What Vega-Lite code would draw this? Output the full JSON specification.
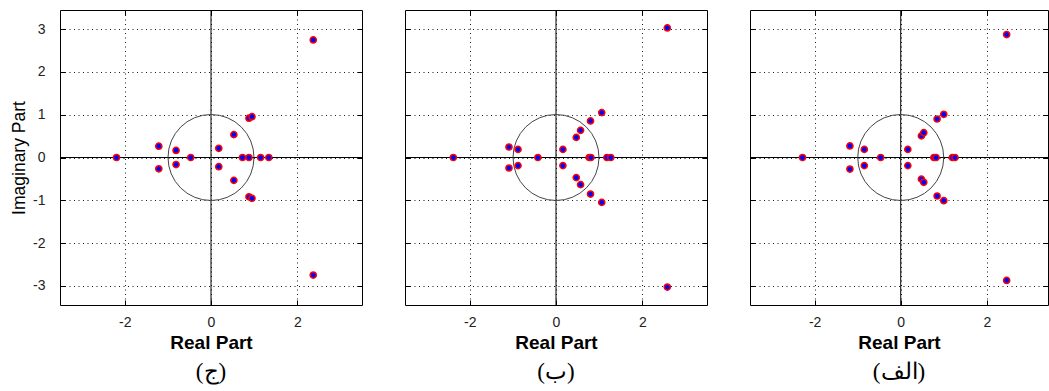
{
  "$schema": "https://vega.github.io/schema/vega-lite/v6.json",
  "usermeta": {"embedOptions": {"actions": false}},
  "background": "white",
  "padding": {"left": 10, "top": 9, "right": 0, "bottom": 0},
  "datasets": {
    "origin": [{"re": 0, "im": 0}],
    "p1": [
      {"re": 2.37, "im": 2.75}, {"re": 2.37, "im": -2.75},
      {"re": -2.19, "im": 0},
      {"re": -1.21, "im": 0.265}, {"re": -1.21, "im": -0.265},
      {"re": -0.81, "im": 0.165}, {"re": -0.81, "im": -0.165},
      {"re": -0.47, "im": 0},
      {"re": 0.18, "im": 0.215}, {"re": 0.18, "im": -0.215},
      {"re": 0.53, "im": 0.535}, {"re": 0.53, "im": -0.535},
      {"re": 0.88, "im": 0.92}, {"re": 0.95, "im": 0.955},
      {"re": 0.88, "im": -0.92}, {"re": 0.95, "im": -0.955},
      {"re": 0.73, "im": 0}, {"re": 0.88, "im": 0}, {"re": 1.15, "im": 0}, {"re": 1.34, "im": 0}
    ],
    "p2": [
      {"re": 2.58, "im": 3.03}, {"re": 2.58, "im": -3.03},
      {"re": -2.38, "im": 0},
      {"re": -1.09, "im": 0.245}, {"re": -1.09, "im": -0.245},
      {"re": -0.88, "im": 0.19}, {"re": -0.88, "im": -0.19},
      {"re": -0.42, "im": 0},
      {"re": 0.16, "im": 0.19}, {"re": 0.16, "im": -0.19},
      {"re": 0.47, "im": 0.47}, {"re": 0.47, "im": -0.47},
      {"re": 0.57, "im": 0.635}, {"re": 0.57, "im": -0.635},
      {"re": 0.8, "im": 0.855}, {"re": 0.8, "im": -0.855},
      {"re": 1.06, "im": 1.05}, {"re": 1.06, "im": -1.05},
      {"re": 0.77, "im": 0}, {"re": 0.81, "im": 0}, {"re": 1.18, "im": 0}, {"re": 1.27, "im": 0}
    ],
    "p3": [
      {"re": 2.46, "im": 2.875}, {"re": 2.46, "im": -2.875},
      {"re": -2.28, "im": 0},
      {"re": -1.18, "im": 0.27}, {"re": -1.18, "im": -0.27},
      {"re": -0.845, "im": 0.19}, {"re": -0.845, "im": -0.19},
      {"re": -0.465, "im": 0},
      {"re": 0.165, "im": 0.19}, {"re": 0.165, "im": -0.19},
      {"re": 0.48, "im": 0.505}, {"re": 0.48, "im": -0.505},
      {"re": 0.535, "im": 0.58}, {"re": 0.535, "im": -0.58},
      {"re": 0.845, "im": 0.9}, {"re": 0.845, "im": -0.9},
      {"re": 1.0, "im": 1.01}, {"re": 1.0, "im": -1.01},
      {"re": 0.77, "im": 0}, {"re": 0.82, "im": 0}, {"re": 1.2, "im": 0}, {"re": 1.26, "im": 0}
    ]
  },
  "hconcat": [
    {
      "width": 302, "height": 295,
      "title": {"text": "(ج)", "orient": "bottom", "anchor": "middle", "frame": "group", "font": "Liberation Serif", "fontSize": 23, "fontWeight": "normal", "color": "#000", "offset": 9},
      "layer": [
        {"data": {"name": "origin"}, "mark": {"type": "rule", "color": "#000", "strokeWidth": 1},
         "encoding": {"y": {"field": "im", "type": "quantitative", "scale": {"domain": [-3.45, 3.45], "nice": false}, "axis": null}}},
        {"data": {"name": "origin"}, "mark": {"type": "rule", "color": "#000", "strokeWidth": 1},
         "encoding": {"x": {"field": "re", "type": "quantitative", "scale": {"domain": [-3.5, 3.5], "nice": false, "zero": false}, "axis": null}}},
        {"data": {"name": "origin"}, "mark": {"type": "point", "shape": "circle", "filled": false, "size": 7396, "stroke": "#444", "strokeWidth": 1, "opacity": 1},
         "encoding": {
           "x": {"field": "re", "type": "quantitative", "scale": {"domain": [-3.5, 3.5], "nice": false, "zero": false},
                 "axis": {"orient": "top", "values": [-2, 0, 2], "labels": false, "grid": false, "domain": false, "tickSize": -5, "tickColor": "#000", "title": null}},
           "y": {"field": "im", "type": "quantitative", "scale": {"domain": [-3.45, 3.45], "nice": false},
                 "axis": {"orient": "right", "values": [-3, -2, -1, 0, 1, 2, 3], "labels": false, "grid": false, "domain": false, "tickSize": -5, "tickColor": "#000", "title": null}}
         }},
        {"data": {"name": "p1"}, "mark": {"type": "point", "shape": "circle", "filled": true, "size": 38, "fill": "#0000ff", "stroke": "#ff0000", "strokeWidth": 1.5, "opacity": 1},
         "encoding": {
           "x": {"field": "re", "type": "quantitative", "scale": {"domain": [-3.5, 3.5], "nice": false, "zero": false},
                 "axis": {"orient": "bottom", "values": [-2, 0, 2], "labelExpr": "'' + datum.value", "grid": true, "gridDash": [1, 3.5], "gridColor": "#000", "gridOpacity": 0.9, "domain": false, "tickSize": -5, "tickColor": "#000", "labelPadding": 15, "labelFont": "Liberation Sans", "labelFontSize": 14, "labelColor": "#222", "title": "Real Part", "titleFont": "Liberation Sans", "titleFontSize": 19, "titleFontWeight": "bold", "titleColor": "#000", "titlePadding": 4}},
           "y": {"field": "im", "type": "quantitative", "scale": {"domain": [-3.45, 3.45], "nice": false},
                 "axis": {"orient": "left", "values": [-3, -2, -1, 0, 1, 2, 3], "labelExpr": "'' + datum.value", "grid": true, "gridDash": [1, 3.5], "gridColor": "#000", "gridOpacity": 0.9, "domain": false, "tickSize": -5, "tickColor": "#000", "labelPadding": 20, "labelFont": "Liberation Sans", "labelFontSize": 14, "labelColor": "#222", "title": "Imaginary Part", "titleFont": "Liberation Sans", "titleFontSize": 17.5, "titleFontWeight": "normal", "titleColor": "#000", "titlePadding": 4}}
         }}
      ],
      "resolve": {"axis": {"x": "independent", "y": "independent"}}
    },
    {
      "width": 302, "height": 295,
      "title": {"text": "(ب)", "orient": "bottom", "anchor": "middle", "frame": "group", "font": "Liberation Serif", "fontSize": 23, "fontWeight": "normal", "color": "#000", "offset": 9},
      "layer": [
        {"data": {"name": "origin"}, "mark": {"type": "rule", "color": "#000", "strokeWidth": 1},
         "encoding": {"y": {"field": "im", "type": "quantitative", "scale": {"domain": [-3.45, 3.45], "nice": false}, "axis": null}}},
        {"data": {"name": "origin"}, "mark": {"type": "rule", "color": "#000", "strokeWidth": 1},
         "encoding": {"x": {"field": "re", "type": "quantitative", "scale": {"domain": [-3.5, 3.5], "nice": false, "zero": false}, "axis": null}}},
        {"data": {"name": "origin"}, "mark": {"type": "point", "shape": "circle", "filled": false, "size": 7396, "stroke": "#444", "strokeWidth": 1, "opacity": 1},
         "encoding": {
           "x": {"field": "re", "type": "quantitative", "scale": {"domain": [-3.5, 3.5], "nice": false, "zero": false},
                 "axis": {"orient": "top", "values": [-2, 0, 2], "labels": false, "grid": false, "domain": false, "tickSize": -5, "tickColor": "#000", "title": null}},
           "y": {"field": "im", "type": "quantitative", "scale": {"domain": [-3.45, 3.45], "nice": false},
                 "axis": {"orient": "right", "values": [-3, -2, -1, 0, 1, 2, 3], "labels": false, "grid": false, "domain": false, "tickSize": -5, "tickColor": "#000", "title": null}}
         }},
        {"data": {"name": "p2"}, "mark": {"type": "point", "shape": "circle", "filled": true, "size": 38, "fill": "#0000ff", "stroke": "#ff0000", "strokeWidth": 1.5, "opacity": 1},
         "encoding": {
           "x": {"field": "re", "type": "quantitative", "scale": {"domain": [-3.5, 3.5], "nice": false, "zero": false},
                 "axis": {"orient": "bottom", "values": [-2, 0, 2], "labelExpr": "'' + datum.value", "grid": true, "gridDash": [1, 3.5], "gridColor": "#000", "gridOpacity": 0.9, "domain": false, "tickSize": -5, "tickColor": "#000", "labelPadding": 15, "labelFont": "Liberation Sans", "labelFontSize": 14, "labelColor": "#222", "title": "Real Part", "titleFont": "Liberation Sans", "titleFontSize": 19, "titleFontWeight": "bold", "titleColor": "#000", "titlePadding": 4}},
           "y": {"field": "im", "type": "quantitative", "scale": {"domain": [-3.45, 3.45], "nice": false},
                 "axis": {"orient": "left", "values": [-3, -2, -1, 0, 1, 2, 3], "grid": true, "gridDash": [1, 3.5], "gridColor": "#000", "gridOpacity": 0.9, "domain": false, "tickSize": -5, "tickColor": "#000", "labels": false, "title": null}}
         }}
      ],
      "resolve": {"axis": {"x": "independent", "y": "independent"}}
    },
    {
      "width": 298, "height": 295,
      "title": {"text": "(الف)", "orient": "bottom", "anchor": "middle", "frame": "group", "font": "Liberation Serif", "fontSize": 23, "fontWeight": "normal", "color": "#000", "offset": 9},
      "layer": [
        {"data": {"name": "origin"}, "mark": {"type": "rule", "color": "#000", "strokeWidth": 1},
         "encoding": {"y": {"field": "im", "type": "quantitative", "scale": {"domain": [-3.45, 3.45], "nice": false}, "axis": null}}},
        {"data": {"name": "origin"}, "mark": {"type": "rule", "color": "#000", "strokeWidth": 1},
         "encoding": {"x": {"field": "re", "type": "quantitative", "scale": {"domain": [-3.5, 3.42], "nice": false, "zero": false}, "axis": null}}},
        {"data": {"name": "origin"}, "mark": {"type": "point", "shape": "circle", "filled": false, "size": 7396, "stroke": "#444", "strokeWidth": 1, "opacity": 1},
         "encoding": {
           "x": {"field": "re", "type": "quantitative", "scale": {"domain": [-3.5, 3.42], "nice": false, "zero": false},
                 "axis": {"orient": "top", "values": [-2, 0, 2], "labels": false, "grid": false, "domain": false, "tickSize": -5, "tickColor": "#000", "title": null}},
           "y": {"field": "im", "type": "quantitative", "scale": {"domain": [-3.45, 3.45], "nice": false},
                 "axis": {"orient": "right", "values": [-3, -2, -1, 0, 1, 2, 3], "labels": false, "grid": false, "domain": false, "tickSize": -5, "tickColor": "#000", "title": null}}
         }},
        {"data": {"name": "p3"}, "mark": {"type": "point", "shape": "circle", "filled": true, "size": 38, "fill": "#0000ff", "stroke": "#ff0000", "strokeWidth": 1.5, "opacity": 1},
         "encoding": {
           "x": {"field": "re", "type": "quantitative", "scale": {"domain": [-3.5, 3.42], "nice": false, "zero": false},
                 "axis": {"orient": "bottom", "values": [-2, 0, 2], "labelExpr": "'' + datum.value", "grid": true, "gridDash": [1, 3.5], "gridColor": "#000", "gridOpacity": 0.9, "domain": false, "tickSize": -5, "tickColor": "#000", "labelPadding": 15, "labelFont": "Liberation Sans", "labelFontSize": 14, "labelColor": "#222", "title": "Real Part", "titleFont": "Liberation Sans", "titleFontSize": 19, "titleFontWeight": "bold", "titleColor": "#000", "titlePadding": 4}},
           "y": {"field": "im", "type": "quantitative", "scale": {"domain": [-3.45, 3.45], "nice": false},
                 "axis": {"orient": "left", "values": [-3, -2, -1, 0, 1, 2, 3], "grid": true, "gridDash": [1, 3.5], "gridColor": "#000", "gridOpacity": 0.9, "domain": false, "tickSize": -5, "tickColor": "#000", "labels": false, "title": null}}
         }}
      ],
      "resolve": {"axis": {"x": "independent", "y": "independent"}}
    }
  ],
  "spacing": 43,
  "bounds": "flush",
  "config": {"view": {"stroke": "#000", "strokeWidth": 1}, "font": "Liberation Sans"}
}
